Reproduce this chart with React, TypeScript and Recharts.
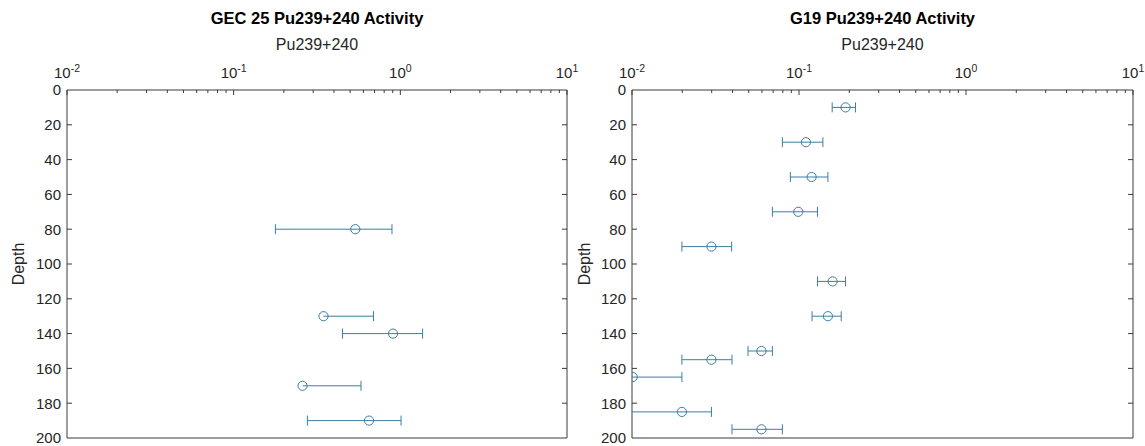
import React from 'react';
import { ScatterChart, Scatter, XAxis, YAxis } from 'recharts';

// ---------- data ----------
const gecDepth = [80, 130, 140, 170, 190];
const gecValue = [0.537, 0.346, 0.904, 0.259, 0.649];
const gecLow: (number | null)[] = [0.178, null, 0.45, null, 0.277];
const gecHigh = [0.891, 0.69, 1.36, 0.581, 1.01];

const g19Depth = [10, 30, 50, 70, 90, 110, 130, 150, 155, 165, 185, 195];
const g19Value = [0.19, 0.11, 0.119, 0.099, 0.0299, 0.159, 0.149, 0.0596, 0.0299, 0.0101, 0.0199, 0.0596];
const g19Low: (number | null)[] = [0.158, 0.0795, 0.0888, 0.0693, 0.0199, 0.129, 0.1197, 0.0495, 0.0199, 0.01, 0.01, 0.0397];
const g19High = [0.218, 0.139, 0.149, 0.129, 0.0395, 0.19, 0.179, 0.0693, 0.0397, 0.0199, 0.0299, 0.0795];

const xDomain = [0.01, 10];
const majorX = [0.01, 0.1, 1, 10];
const majorExp = ['-2', '-1', '0', '1'];
const minorX = [
  0.02, 0.03, 0.04, 0.05, 0.06, 0.07, 0.08, 0.09,
  0.2, 0.3, 0.4, 0.5, 0.6, 0.7, 0.8, 0.9,
  2, 3, 4, 5, 6, 7, 8, 9,
];
const allX = [...majorX, ...minorX];
const depthTicks = [0, 20, 40, 60, 80, 100, 120, 140, 160, 180, 200];
const yDomain = [0, 200];

const titles = ['GEC 25 Pu239+240 Activity', 'G19 Pu239+240 Activity'];
const xLabel = 'Pu239+240';
const yLabel = 'Depth';

// ---------- styles ----------
const FONT = '"Liberation Sans", Arial, Helvetica, sans-serif';
const AXIS = '#262626';
const FRAME = '#3a3a3a';
const MARK = '#3b7ea1';
const TICK_FS = 15;

const TopTick = (props: any) => {
  const { x, y, payload } = props;
  const v = payload.value;
  const mi = majorX.indexOf(v);
  const isMajor = mi >= 0;
  return (
    <g>
      <line x1={x} x2={x} y1={y} y2={y + (isMajor ? 5 : 3)} stroke={FRAME} strokeWidth={1} />
      {isMajor && (
        <text x={x} y={y - 12} textAnchor="middle" fontFamily={FONT} fontSize={TICK_FS} fill={AXIS}>
          <tspan>10</tspan>
          <tspan dy={-6} fontSize={10.5}>{majorExp[mi]}</tspan>
        </text>
      )}
    </g>
  );
};

const BottomTick = (props: any) => {
  const { x, y, payload } = props;
  const isMajor = majorX.indexOf(payload.value) >= 0;
  return <line x1={x} x2={x} y1={y} y2={y - (isMajor ? 5 : 3)} stroke={FRAME} strokeWidth={1} />;
};

const LeftTick = (props: any) => {
  const { x, y, payload } = props;
  const v = payload.value;
  const inner = v !== yDomain[0] && v !== yDomain[1];
  return (
    <g>
      {inner && <line x1={x} x2={x + 5} y1={y} y2={y} stroke={FRAME} strokeWidth={1} />}
      <text x={x - 6} y={y} dy="0.36em" textAnchor="end" fontFamily={FONT} fontSize={TICK_FS} fill={AXIS}>
        {v}
      </text>
    </g>
  );
};

const RightTick = (props: any) => {
  const { x, y, payload } = props;
  const v = payload.value;
  const inner = v !== yDomain[0] && v !== yDomain[1];
  return inner ? <line x1={x} x2={x - 5} y1={y} y2={y} stroke={FRAME} strokeWidth={1} /> : <g />;
};

const CapShape = (props: any) => {
  const { cx, cy, payload } = props;
  if (!payload || !payload.cap) return <g />;
  return <line x1={cx} x2={cx} y1={cy - 5} y2={cy + 5} stroke={MARK} strokeWidth={1} />;
};

const CircleShape = (props: any) => {
  const { cx, cy } = props;
  return <circle cx={cx} cy={cy} r={4.6} fill="none" stroke={MARK} strokeWidth={1} />;
};

type PanelProps = {
  depth: number[];
  value: number[];
  low: (number | null)[];
  high: number[];
  width: number;
  margin: { top: number; right: number; bottom: number; left: number };
};

function Panel({ depth, value, low, high, width, margin }: PanelProps) {
  const points = depth.map((d, i) => ({ x: value[i], y: d }));
  const bars = depth.map((d, i) => {
    const lo = low[i];
    if (lo === null) {
      return [
        { x: value[i], y: d, cap: false },
        { x: high[i], y: d, cap: true },
      ];
    }
    return [
      { x: lo, y: d, cap: lo > xDomain[0] },
      { x: high[i], y: d, cap: true },
    ];
  });
  return (
    <ScatterChart width={width} height={446} margin={margin}>
      <XAxis
        xAxisId="top"
        orientation="top"
        type="number"
        dataKey="x"
        scale="log"
        domain={xDomain}
        allowDataOverflow
        ticks={allX}
        interval={0}
        tickLine={false}
        tickSize={0}
        tickMargin={0}
        height={30}
        axisLine={{ stroke: FRAME, strokeWidth: 1 }}
        tick={<TopTick />}
      />
      <XAxis
        xAxisId="bottom"
        orientation="bottom"
        type="number"
        scale="log"
        domain={xDomain}
        allowDataOverflow
        ticks={allX}
        interval={0}
        tickLine={false}
        tickSize={0}
        tickMargin={0}
        height={1}
        axisLine={{ stroke: FRAME, strokeWidth: 1 }}
        tick={<BottomTick />}
      />
      <YAxis
        yAxisId="left"
        orientation="left"
        type="number"
        dataKey="y"
        domain={yDomain}
        allowDataOverflow
        reversed
        ticks={depthTicks}
        interval={0}
        tickLine={false}
        tickSize={0}
        tickMargin={0}
        width={27}
        axisLine={{ stroke: FRAME, strokeWidth: 1 }}
        tick={<LeftTick />}
      />
      <YAxis
        yAxisId="right"
        orientation="right"
        type="number"
        domain={yDomain}
        allowDataOverflow
        reversed
        ticks={depthTicks}
        interval={0}
        tickLine={false}
        tickSize={0}
        tickMargin={0}
        width={1}
        axisLine={{ stroke: FRAME, strokeWidth: 1 }}
        tick={<RightTick />}
      />
      {bars.map((b, i) => (
        <Scatter
          key={'bar' + i}
          data={b}
          xAxisId="top"
          yAxisId="left"
          line={{ stroke: MARK, strokeWidth: 1 }}
          lineJointType="linear"
          stroke={MARK}
          fill="none"
          shape={<CapShape />}
          isAnimationActive={false}
        />
      ))}
      <Scatter
        data={points}
        xAxisId="top"
        yAxisId="left"
        shape={<CircleShape />}
        stroke={MARK}
        fill="none"
        isAnimationActive={false}
      />
    </ScatterChart>
  );
}

export default function App() {
  const leftCenter = (67 + 567) / 2;
  const rightCenter = (632 + 1133) / 2;
  return (
    <div style={{ position: 'absolute', left: 0, top: 0, width: 1145, height: 446, background: '#fff', overflow: 'hidden' }}>
      <div style={{ position: 'absolute', left: 0, top: 0 }}>
        <Panel
          depth={gecDepth}
          value={gecValue}
          low={gecLow}
          high={gecHigh}
          width={600}
          margin={{ top: 60, right: 32, bottom: 7, left: 40 }}
        />
      </div>
      <div style={{ position: 'absolute', left: 565, top: 0 }}>
        <Panel
          depth={g19Depth}
          value={g19Value}
          low={g19Low}
          high={g19High}
          width={580}
          margin={{ top: 60, right: 11, bottom: 7, left: 40 }}
        />
      </div>
      <svg width={1145} height={446} style={{ position: 'absolute', left: 0, top: 0, pointerEvents: 'none' }}>
        {[leftCenter, rightCenter].map((cx, i) => (
          <g key={i}>
            <text x={cx} y={24} textAnchor="middle" fontFamily={FONT} fontSize={16.5} fontWeight="bold" fill="#000">
              {titles[i]}
            </text>
            <text x={cx} y={50} textAnchor="middle" fontFamily={FONT} fontSize={16} fill={AXIS}>
              {xLabel}
            </text>
          </g>
        ))}
        {[18, 584].map((x, i) => (
          <text
            key={'yl' + i}
            x={x}
            y={264}
            textAnchor="middle"
            dominantBaseline="central"
            transform={`rotate(-90 ${x} 264)`}
            fontFamily={FONT}
            fontSize={16}
            fill={AXIS}
          >
            {yLabel}
          </text>
        ))}
      </svg>
    </div>
  );
}
